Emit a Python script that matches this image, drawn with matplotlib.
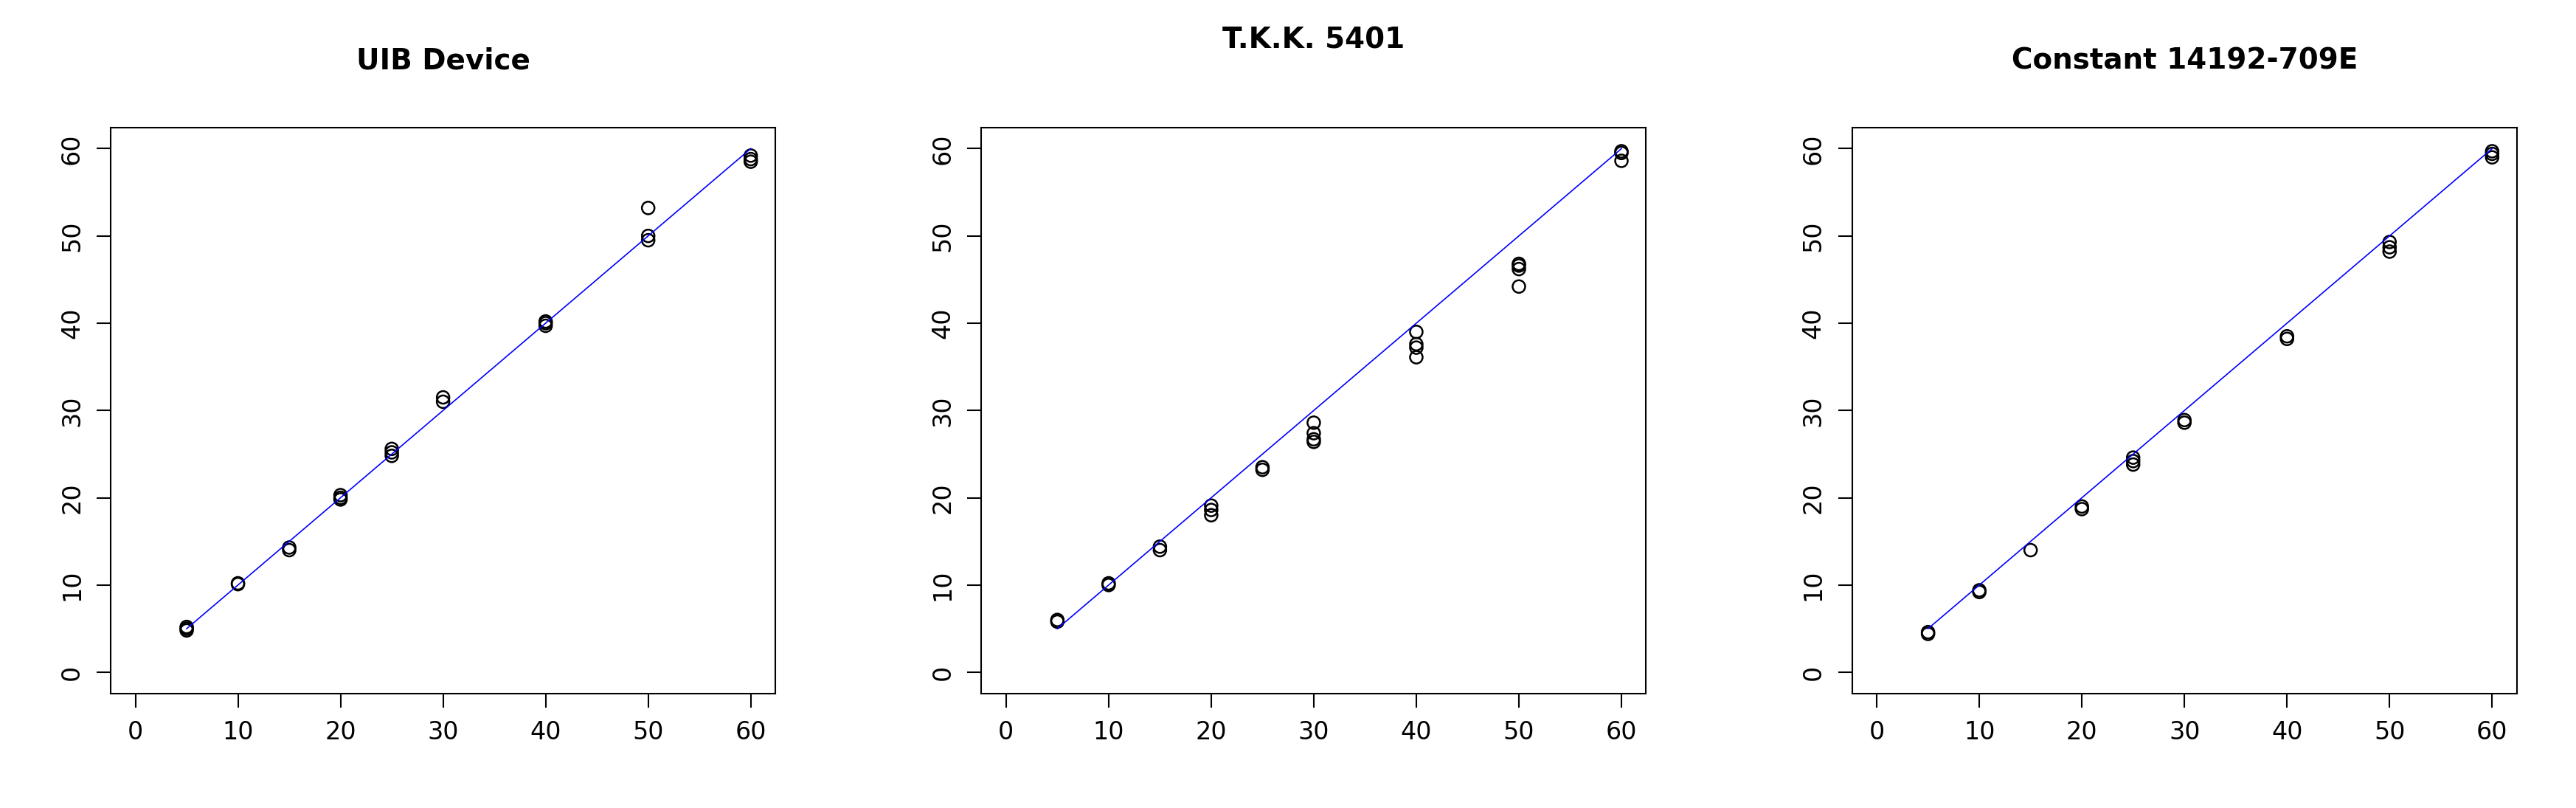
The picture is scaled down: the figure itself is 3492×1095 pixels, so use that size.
import matplotlib
matplotlib.use("Agg")
import matplotlib.pyplot as plt

titles = ["UIB Device", "T.K.K. 5401", "Constant 14192-709E"]
refX = [5, 10, 15, 20, 25, 30, 40, 50, 60]

uibY = [[4.8, 5.0, 5.2], [10.1, 10.2], [14.0, 14.3], [19.8, 20.0, 20.3],
        [24.8, 25.2, 25.6], [31.0, 31.5], [39.7, 40.0, 40.2],
        [49.5, 50.0, 53.2], [58.5, 58.8, 59.2]]
tkkY = [[5.8, 6.0], [10.0, 10.2], [14.0, 14.4], [18.0, 18.6, 19.1],
        [23.2, 23.5], [26.4, 26.7, 27.4, 28.6], [36.1, 37.2, 37.6, 39.0],
        [44.2, 46.2, 46.6, 46.8], [58.6, 59.5, 59.7]]
constY = [[4.4, 4.6], [9.2, 9.4], [14.0], [18.7, 19.0], [23.8, 24.2, 24.6],
          [28.6, 28.9], [38.2, 38.5], [48.2, 48.7, 49.3], [59.0, 59.4, 59.7]]
allY = [uibY, tkkY, constY]

titleY = [0.925, 0.95, 0.925]
lefts = [0.043, 0.381, 0.719]

fig = plt.figure(figsize=(34.92, 10.95), dpi=100)
for i in range(3):
    ax = fig.add_axes([lefts[i], 0.142, 0.258, 0.70])
    xs, ys = [], []
    for x, vals in zip(refX, allY[i]):
        xs += [x] * len(vals)
        ys += vals
    ax.scatter(xs, ys, s=150, facecolors="none", edgecolors="black", linewidths=1.8)
    ax.plot([refX[0], refX[-1]], [refX[0], refX[-1]], color="blue", lw=1.2)
    ax.set_xlim(-2.4, 62.4)
    ax.set_ylim(-2.4, 62.4)
    ax.set_xticks(range(0, 61, 10))
    ax.set_yticks(range(0, 61, 10))
    ax.tick_params(labelsize=24, length=14, width=1.5, pad=12)
    for lab in ax.get_yticklabels():
        lab.set_rotation(90)
        lab.set_va("center")
    for sp in ax.spines.values():
        sp.set_linewidth(1.5)
    fig.text(lefts[i] + 0.129, titleY[i], titles[i], ha="center", va="center",
             fontsize=28, fontweight="bold")

fig.savefig("out.png", dpi=100)
